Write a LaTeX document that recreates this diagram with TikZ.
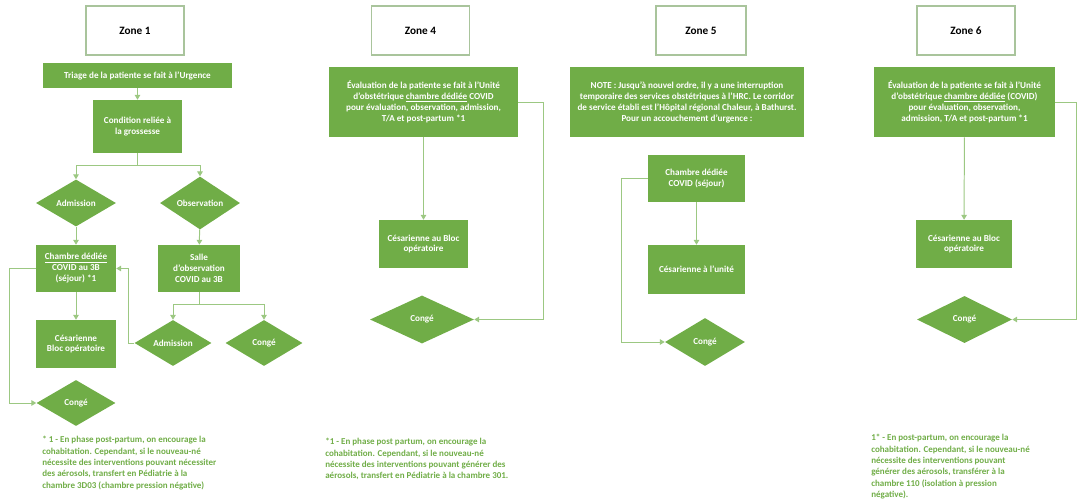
\documentclass[tikz,border=0pt]{standalone}
\usepackage{fontspec}
\setmainfont{Carlito}
\usetikzlibrary{shapes.geometric,arrows.meta}

\definecolor{vert}{HTML}{70AD47}
\definecolor{trait}{HTML}{9CC882}
\definecolor{cadre}{HTML}{A9C49C}

\tikzset{
  zone/.style={draw=cadre,line width=0.8pt,fill=white,minimum width=24.5mm,minimum height=12.25mm,font=\fontsize{8}{9.5}\selectfont\bfseries},
  boite/.style={fill=vert,text=white,align=center,inner sep=1pt,font=\fontsize{6.5}{7.8}\selectfont\bfseries},
  losange/.style={diamond,fill=vert,text=white,inner sep=0pt,font=\fontsize{6.5}{7.8}\selectfont\bfseries},
  note/.style={text=vert,align=left,anchor=north west,inner sep=0pt,font=\fontsize{6.4}{8.1}\selectfont\bfseries},
  fleche/.style={draw=trait,line width=0.7pt,-{Triangle[width=4pt,length=3.5pt]}},
  lien/.style={draw=trait,line width=0.7pt}
}

\begin{document}
\begin{tikzpicture}[x=0.25mm,y=-0.25mm]
  \useasboundingbox (0,0) rectangle (1077,503);

  % Zone 1
  \node[zone] (z1) at (135,30.5) {Zone 1};
  \node[boite,minimum width=47.25mm,minimum height=6.25mm] (tri) at (137.5,75.5) {Triage de la patiente se fait à l’Urgence};
  \node[boite,minimum width=22.25mm,minimum height=13.25mm] (cond) at (137.5,126.5) {Condition reliée à\\la grossesse};
  \node[losange,minimum width=20mm,minimum height=11.75mm] (adm1) at (76,203) {Admission};
  \node[losange,minimum width=20mm,minimum height=11.75mm] (obs) at (200,203) {Observation};
  \node[boite,minimum width=20mm,minimum height=11.75mm] (ch1) at (76,268.5) {\underline{Chambre dédiée}\\COVID au 3B\\(séjour) *1};
  \node[boite,minimum width=20.5mm,minimum height=11.75mm] (salle) at (199,268.5) {Salle\\d’observation\\COVID au 3B};
  \node[losange,minimum width=19.25mm,minimum height=11.5mm] (adm2) at (173,343) {Admission};
  \node[losange,minimum width=19.25mm,minimum height=11.5mm] (cg1b) at (264,343) {Congé};
  \node[boite,minimum width=20mm,minimum height=12mm] (ces1) at (76,344) {Césarienne\\Bloc opératoire};
  \node[losange,minimum width=19.75mm,minimum height=11.5mm] (cg1) at (76,403) {Congé};
  \node[note] (n1) at (42,436) {* 1 - En phase post-partum, on encourage la\\cohabitation. Cependant, si le nouveau-né\\nécessite des interventions pouvant nécessiter\\des aérosols, transfert en Pédiatrie à la\\chambre 3D03 (chambre pression négative)};

  \draw[fleche] (tri) -- (cond);
  \draw[fleche] (cond.south) -- ++(0,12) -| (adm1.north);
  \draw[fleche] (cond.south) -- ++(0,12) -| (obs.north);
  \draw[fleche] (adm1) -- (ch1);
  \draw[fleche] (obs) -- (salle);
  \draw[fleche] (salle.south) -- ++(0,12) -| (adm2.north);
  \draw[fleche] (salle.south) -- ++(0,12) -| (cg1b.north);
  \draw[fleche] (adm2.west) -- ++(-6,0) |- (ch1.east);
  \draw[fleche] (ch1) -- (ces1);
  \draw[fleche] (ch1.west) -- ++(-26,0) |- (cg1.west);

  % Zone 4
  \node[zone] (z4) at (420.5,30.5) {Zone 4};
  \node[boite,minimum width=47.25mm,minimum height=17.5mm] (eval4) at (423.5,102) {Évaluation de la patiente se fait à l’Unité\\d’obstétrique \underline{chambre dédiée} COVID\\pour évaluation, observation, admission,\\T/A et post-partum *1};
  \node[boite,minimum width=22.25mm,minimum height=12mm] (ces4) at (423.5,244) {Césarienne au Bloc\\opératoire};
  \node[losange,minimum width=26mm,minimum height=12mm] (cg4) at (422,319.5) {Congé};
  \node[note] (n4) at (325,438) {*1 - En phase post partum, on encourage la\\cohabitation. Cependant, si le nouveau-né\\nécessite des interventions pouvant générer des\\aérosols, transfert en Pédiatrie à la chambre 301.};

  \draw[fleche] (eval4) -- (ces4);
  \draw[fleche] (eval4.east) -- ++(25,0) |- (cg4.east);

  % Zone 5
  \node[zone,minimum width=22.5mm] (z5) at (701,30.5) {Zone 5};
  \node[boite,minimum width=58.5mm,minimum height=17.5mm] (note5) at (687,102) {NOTE : Jusqu’à nouvel ordre, il y a une interruption\\temporaire des services obstétriques à l’HRC. Le corridor\\de service établi est l’Hôpital régional Chaleur, à Bathurst.\\Pour un accouchement d’urgence :};
  \node[boite,minimum width=24.25mm,minimum height=11.75mm] (ch5) at (696.5,178.5) {Chambre dédiée\\COVID (séjour)};
  \node[boite,minimum width=24.25mm,minimum height=12.25mm] (ces5) at (696.5,269.5) {Césarienne à l’unité};
  \node[losange,minimum width=20mm,minimum height=12mm] (cg5) at (705,342) {Congé};

  \draw[fleche] (ch5) -- (ces5);
  \draw[fleche] (ch5.west) -- ++(-26,0) |- (cg5.west);

  % Zone 6
  \node[zone] (z6) at (966,30.5) {Zone 6};
  \node[boite,minimum width=45.25mm,minimum height=17.5mm] (eval6) at (964.5,102) {Évaluation de la patiente se fait à l’Unité\\d’obstétrique \underline{chambre dédiée} (COVID)\\pour évaluation, observation,\\admission, T/A et post-partum *1};
  \node[boite,minimum width=24mm,minimum height=12mm] (ces6) at (964,244) {Césarienne au Bloc\\opératoire};
  \node[losange,minimum width=23.75mm,minimum height=11.75mm] (cg6) at (964.5,319.5) {Congé};
  \node[note] (n6) at (871,434) {1* - En post-partum, on encourage la\\cohabitation. Cependant, si le nouveau-né\\nécessite des interventions pouvant\\générer des aérosols, transférer à la\\chambre 110 (isolation à pression\\négative).};
  \coordinate (bord6) at (1076,102);

  \draw[fleche] (eval6) -- (ces6);
  \draw[lien] (eval6.east) -- (bord6);
  \draw[fleche] (bord6) |- (cg6.east);
\end{tikzpicture}
\end{document}
